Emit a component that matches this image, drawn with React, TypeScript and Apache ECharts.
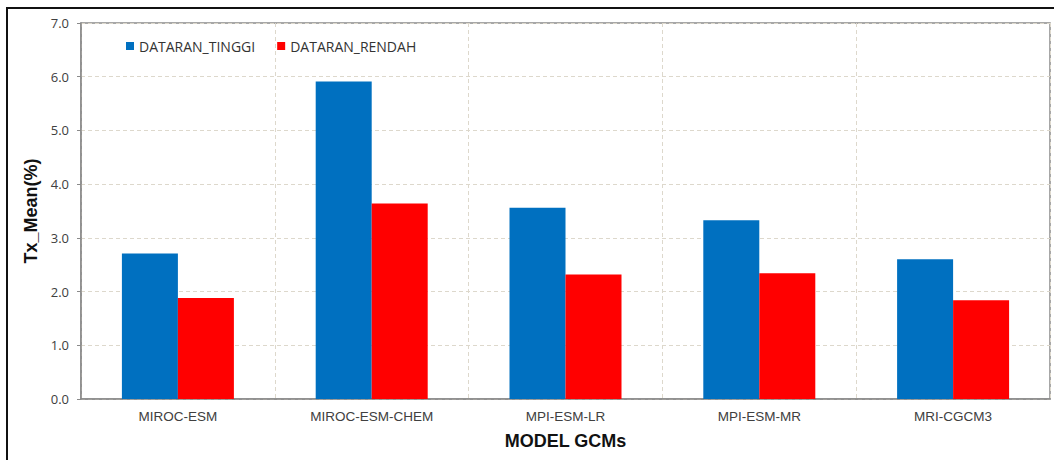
import React, { useEffect, useRef } from "react";
import * as echarts from "echarts";

const categories = ["MIROC-ESM", "MIROC-ESM-CHEM", "MPI-ESM-LR", "MPI-ESM-MR", "MRI-CGCM3"];
const dataranTinggi = [2.71, 5.91, 3.56, 3.33, 2.6];
const dataranRendah = [1.88, 3.64, 2.32, 2.34, 1.84];

export default function App() {
  const ref = useRef<HTMLDivElement>(null);

  useEffect(() => {
    if (!ref.current) return;
    const chart = echarts.init(ref.current, undefined, { renderer: "svg" });

    chart.setOption({
      animation: false,
      backgroundColor: "#ffffff",
      graphic: [
        {
          type: "rect",
          shape: { x: 7, y: 8, width: 1100, height: 500 },
          style: { fill: "none", stroke: "#111", lineWidth: 2 },
          silent: true,
        },
      ],
      legend: {
        left: 121,
        top: 34,
        itemWidth: 8,
        itemHeight: 8,
        itemGap: 22,
        icon: "rect",
        textStyle: { fontFamily: "Open Sans", fontSize: 14, color: "#333" },
        data: ["DATARAN_TINGGI", "DATARAN_RENDAH"],
      },
      grid: {
        left: 81,
        right: 4,
        top: 23,
        bottom: 61,
        show: true,
        borderColor: "#8a8a8a",
        borderWidth: 1.5,
      },
      xAxis: {
        type: "category",
        data: categories,
        name: "MODEL GCMs",
        nameLocation: "middle",
        nameGap: 33,
        nameTextStyle: { fontFamily: "Liberation Sans", fontWeight: "bold", fontSize: 18, color: "#111" },
        axisLine: { lineStyle: { color: "#8a8a8a", width: 1.5 } },
        axisTick: { show: false },
        axisLabel: {
          fontFamily: "Liberation Sans",
          fontSize: 13.5,
          color: "#404040",
          margin: 10,
        },
        splitLine: { show: true, lineStyle: { color: "#ddd8cc", type: [4, 3], width: 1 } },
      },
      yAxis: {
        type: "value",
        min: 0,
        max: 7,
        interval: 1,
        name: "Tx_Mean(%)",
        nameLocation: "middle",
        nameGap: 36,
        nameTextStyle: { fontFamily: "Liberation Sans", fontWeight: "bold", fontSize: 18, color: "#111" },
        axisLine: { show: true, lineStyle: { color: "#8a8a8a", width: 1.5 } },
        axisTick: { show: true, length: 4, lineStyle: { color: "#8a8a8a" } },
        axisLabel: {
          fontFamily: "Open Sans",
          fontSize: 13,
          color: "#404040",
          margin: 12,
          formatter: (v: number) => v.toFixed(1),
        },
        splitLine: { show: true, lineStyle: { color: "#ddd8cc", type: [4, 3], width: 1 } },
      },
      series: [
        {
          name: "DATARAN_TINGGI",
          type: "bar",
          data: dataranTinggi,
          barWidth: 56,
          barGap: "0%",
          itemStyle: { color: "#0070c0" },
        },
        {
          name: "DATARAN_RENDAH",
          type: "bar",
          data: dataranRendah,
          barWidth: 56,
          barGap: "0%",
          itemStyle: { color: "#ff0000" },
        },
      ],
    });
    return () => chart.dispose();
  }, []);

  return (
    <div
      ref={ref}
      style={{ position: "fixed", left: 0, top: 0, width: 1054, height: 460 }}
    />
  );
}
